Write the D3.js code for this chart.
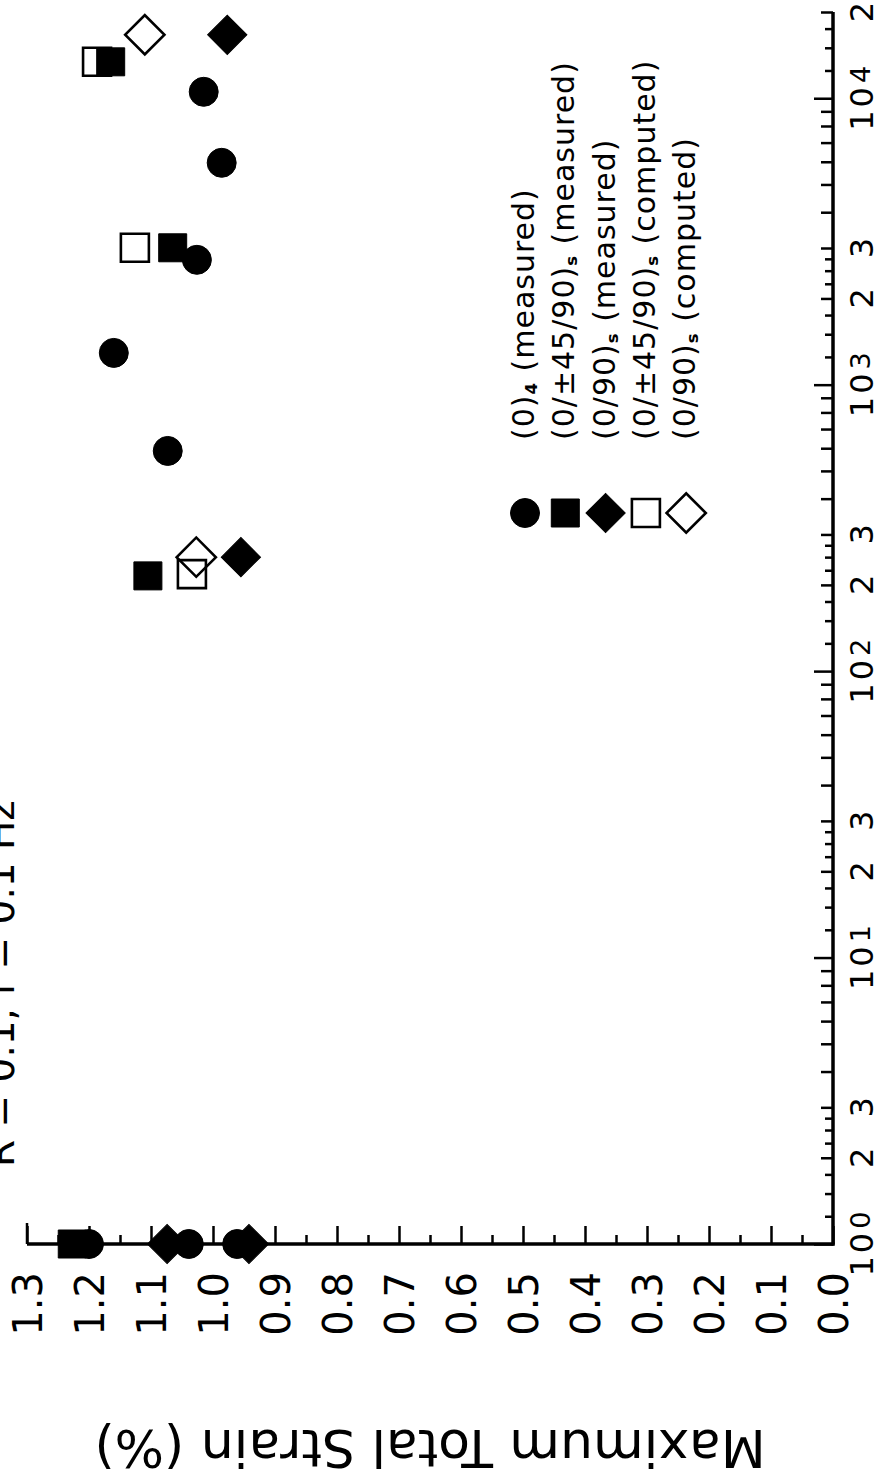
<!DOCTYPE html>
<html>
<head>
<meta charset="utf-8">
<script src="https://cdn.jsdelivr.net/npm/d3@7"></script>
<style>
  html, body { margin: 0; padding: 0; background: #fff; }
  svg { display: block; }
  text { font-family: "DejaVu Sans", sans-serif; fill: #000; }
</style>
</head>
<body>
<svg id="chart" width="882" height="1484"></svg>
<script>
// ---------- data ----------
const title = "R = 0.1, f = 0.1 Hz";
const yAxisTitle = "Maximum Total Strain (%)";

const seriesNames = [
  ["(0)", "4", " (measured)"],
  ["(0/\u00B145/90)", "s", " (measured)"],
  ["(0/90)", "s", " (measured)"],
  ["(0/\u00B145/90)", "s", " (computed)"],
  ["(0/90)", "s", " (computed)"]
];
const seriesSymbols = ["circle", "square", "diamond", "square", "diamond"];
const seriesFilled  = [true, true, true, false, false];

// cycles (N) and maximum total strain (%)
const s0_cycles  = [1, 1, 1, 587, 1291, 2728, 5950, 10530];
const s0_strain  = [1.200, 1.039, 0.961, 1.073, 1.160, 1.026, 0.986, 1.015];
const s1_cycles  = [1, 215, 3005, 13400];
const s1_strain  = [1.227, 1.105, 1.065, 1.165];
const s2_cycles  = [1, 1, 250, 16650];
const s2_strain  = [1.074, 0.942, 0.955, 0.977];
const s3_cycles  = [218, 3005, 13400];
const s3_strain  = [1.034, 1.126, 1.187];
const s4_cycles  = [250, 16650];
const s4_strain  = [1.027, 1.110];

const strainMajorTicks = [1.3,1.2,1.1,1.0,0.9,0.8,0.7,0.6,0.5,0.4,0.3,0.2,0.1,0.0];
const strainTickLabels = ["1.3","1.2","1.1","1.0","0.9","0.8","0.7","0.6","0.5","0.4","0.3","0.2","0.1","0.0"];
const strainMinorTicks = [1.25,1.15,1.05,0.95,0.85,0.75,0.65,0.55,0.45,0.35,0.25,0.15,0.05];

const cycleDecades = [1, 10, 100, 1000, 10000];
const decadeExponents = ["0", "1", "2", "3", "4"];
const cycleMultipliers = [2, 3];          // labelled inside each decade
const cycleMultLabels = ["2", "3"];
const cycleIntMinor = [2, 3, 4, 5, 6, 7, 8, 9];
const cycleFracMinor = [1.25, 1.5, 1.75, 2.25, 2.5, 2.75];
const cycleMax = 20000;

// ---------- chart ----------
const svg = d3.select("#chart");

// rotated landscape chart: strain runs along the bottom, cycles up the right side
const xS = d3.scaleLinear().domain([1.3, 0]).range([27, 833]);
const yN = d3.scaleLog().domain([1, cycleMax]).range([1244, 12]);

const axisY = yN(1), axisX = xS(0);

// strain axis (horizontal)
const gS = svg.append("g").attr("transform", `translate(0,${axisY})`);
gS.call(d3.axisTop(xS).tickValues(strainMajorTicks).tickSize(18).tickFormat(""));
gS.append("g").call(d3.axisTop(xS).tickValues(strainMinorTicks).tickSize(9).tickFormat(""));
gS.selectAll(".domain").remove();
gS.selectAll("line").attr("stroke", "#000").attr("stroke-width", 2.5);
gS.append("line").attr("x1", xS(1.3)).attr("x2", xS(1.3)).attr("y1", 0).attr("y2", -21)
  .attr("stroke", "#000").attr("stroke-width", 2.5);

// cycles axis (vertical)
const allFrac = [], allInt = [];
cycleDecades.forEach(d => {
  cycleFracMinor.forEach(m => { if (d * m <= cycleMax) allFrac.push(d * m); });
  cycleIntMinor.forEach(m => { if (d * m <= cycleMax) allInt.push(d * m); });
});
const gN = svg.append("g").attr("transform", `translate(${axisX},0)`);
gN.append("g").call(d3.axisLeft(yN).tickValues(cycleDecades).tickSize(19).tickFormat(""));
gN.append("g").call(d3.axisLeft(yN).tickValues(allInt).tickSize(12).tickFormat(""));
gN.append("g").call(d3.axisLeft(yN).tickValues(allFrac).tickSize(8).tickFormat(""));
gN.selectAll(".domain").remove();
gN.selectAll("line").attr("stroke", "#000").attr("stroke-width", 2.5);

// axis lines
svg.append("line").attr("x1", xS(1.3)).attr("x2", axisX + 1.5).attr("y1", axisY).attr("y2", axisY)
  .attr("stroke", "#000").attr("stroke-width", 3.5);
svg.append("line").attr("x1", axisX).attr("x2", axisX).attr("y1", axisY + 1.5).attr("y2", yN(cycleMax))
  .attr("stroke", "#000").attr("stroke-width", 3.5);

// strain tick labels (rotated)
const sFs = 40;
svg.append("g").selectAll("text").data(strainMajorTicks).join("text")
  .attr("transform", d => `translate(${xS(d) + sFs * 0.365},${axisY + 28}) rotate(-90)`)
  .attr("text-anchor", "end")
  .style("font-size", sFs + "px")
  .text((d, i) => strainTickLabels[i]);

// cycle tick labels (rotated)
const cFs = 32;
const cx = axisX + 40;
const gCL = svg.append("g");
cycleDecades.forEach((d, i) => {
  const t = gCL.append("text")
    .attr("transform", `translate(${cx},${yN(d)}) rotate(-90)`)
    .attr("text-anchor", "middle")
    .style("font-size", cFs + "px");
  t.append("tspan").text("1");
  t.append("tspan").attr("dx", 3).text("0");
  t.append("tspan").attr("dx", 4).attr("dy", -cFs * 0.1).style("font-size", (cFs * 0.85) + "px").text(decadeExponents[i]);
  cycleMultipliers.forEach((m, j) => {
    if (d * m <= cycleMax) {
      gCL.append("text")
        .attr("transform", `translate(${cx},${yN(d * m)}) rotate(-90)`)
        .attr("text-anchor", "middle")
        .style("font-size", cFs + "px")
        .text(cycleMultLabels[j]);
    }
  });
});

// title (rotated, partly off the left edge as in the source)
svg.append("text")
  .attr("transform", `translate(14,1167) rotate(-90)`)
  .attr("text-anchor", "start")
  .style("font-size", "39px")
  .text(title);

// strain axis title (upside-down)
svg.append("text")
  .attr("transform", `translate(${(xS(1.3) + axisX) / 2},1430) rotate(180)`)
  .attr("text-anchor", "middle")
  .style("font-size", "52px")
  .text(yAxisTitle);

// ---------- markers ----------
const symArea = { circle: 660, square: 784, diamond: 770 };
function markerPath(kind) {
  if (kind === "circle") return d3.symbol(d3.symbolCircle, symArea.circle)();
  return d3.symbol(d3.symbolSquare, symArea[kind])();
}
function drawMarker(g, kind, filled, px, py) {
  const rot = kind === "diamond" ? 45 : 0;
  g.append("path")
    .attr("d", markerPath(kind))
    .attr("transform", `translate(${px},${py}) rotate(${rot})`)
    .attr("fill", filled ? "#000" : "none")
    .attr("stroke", "#000")
    .attr("stroke-width", filled ? 1 : 2.6);
}

const seriesData = [
  [s0_cycles, s0_strain],
  [s1_cycles, s1_strain],
  [s2_cycles, s2_strain],
  [s3_cycles, s3_strain],
  [s4_cycles, s4_strain]
];
const drawOrder = [3, 4, 1, 2, 0];
const gM = svg.append("g");
drawOrder.forEach(si => {
  const [cyc, str] = seriesData[si];
  cyc.forEach((c, k) => drawMarker(gM, seriesSymbols[si], seriesFilled[si], xS(str[k]), yN(c)));
});

// ---------- legend ----------
const legX0 = 525, legDX = 40.3, legMarkY = 513, legTextY = 440;
const lFs = 30;
seriesNames.forEach((parts, i) => {
  const lx = legX0 + i * legDX;
  drawMarker(svg, seriesSymbols[i], seriesFilled[i], lx, legMarkY);
  const t = svg.append("text")
    .attr("transform", `translate(${lx + 9},${legTextY}) rotate(-90)`)
    .attr("text-anchor", "start")
    .style("font-size", lFs + "px")
    .style("letter-spacing", "1px");
  t.append("tspan").text(parts[0]);
  t.append("tspan").attr("dy", 3).style("font-size", (lFs * 0.55) + "px").style("font-weight", "bold").text(parts[1]);
  t.append("tspan").attr("dy", -3).text(parts[2]);
});
</script>
</body>
</html>
